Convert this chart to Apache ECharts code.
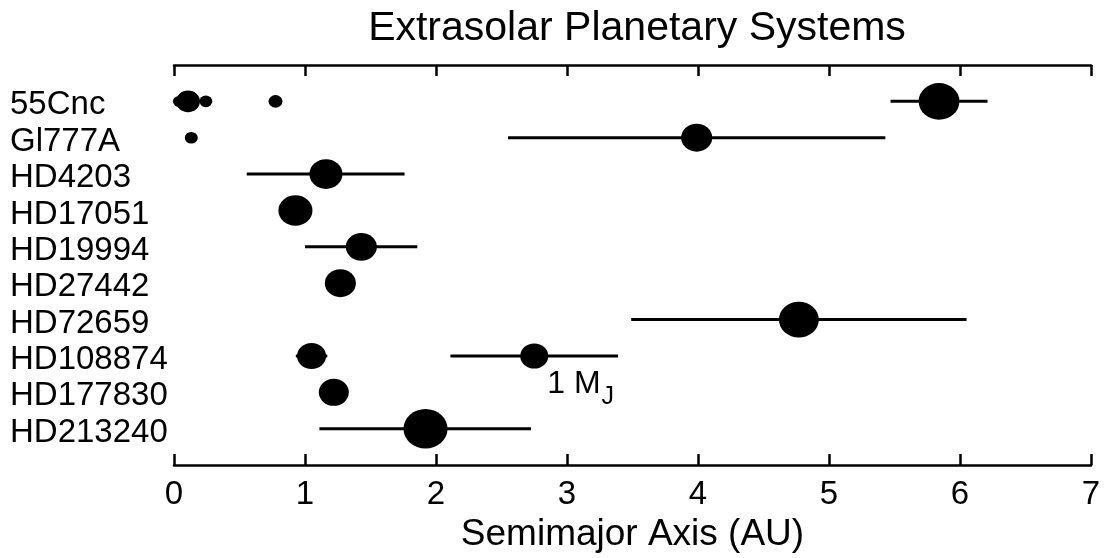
<!DOCTYPE html>
<html>
<head>
<meta charset="utf-8">
<title>Extrasolar Planetary Systems</title>
<script src="https://cdn.jsdelivr.net/npm/echarts@6/dist/echarts.min.js"></script>
<style>
  html, body { margin: 0; padding: 0; background: #fff; }
  #chart { width: 1110px; height: 558px; }
</style>
</head>
<body>
<div id="chart"></div>
<script>
// Host stars, listed top to bottom
const stars = ['55Cnc', 'Gl777A', 'HD4203', 'HD17051', 'HD19994', 'HD27442',
               'HD72659', 'HD108874', 'HD177830', 'HD213240'];

// One entry per planet: host, semimajor axis (AU), mass (Jupiter masses)
const planetHost = ['55Cnc', '55Cnc', '55Cnc', '55Cnc', '55Cnc',
                    'Gl777A', 'Gl777A', 'HD4203', 'HD17051', 'HD19994', 'HD27442',
                    'HD72659', 'HD108874', 'HD108874', 'HD177830', 'HD213240'];
const planetA    = [0.038, 0.107, 0.243, 0.775, 5.84,
                    0.132, 3.99, 1.16, 0.927, 1.43, 1.27,
                    4.77, 1.05, 2.75, 1.22, 1.92];
const planetMass = [0.08, 0.63, 0.10, 0.125, 3.1,
                    0.10, 1.36, 1.64, 1.79, 1.36, 1.36,
                    2.9, 1.11, 1.0, 1.23, 3.9];

// Orbital range (periastron to apastron, AU) for eccentric orbits
const orbitHost = ['55Cnc', 'Gl777A', 'HD4203', 'HD19994', 'HD72659',
                   'HD108874', 'HD108874', 'HD213240'];
const orbitPeri = [5.47, 2.55, 0.555, 1.00, 3.49, 0.93, 2.11, 1.11];
const orbitApo  = [6.21, 5.43, 1.76, 1.857, 6.05, 1.17, 3.39, 2.725];

// Axis ticks
const xTicks = [0, 1, 2, 3, 4, 5, 6, 7];

// Reference planet carrying the mass-scale label
const refHost = 'HD108874';
const refA = 2.75;

const FONT = '"Liberation Sans", Arial, Helvetica, sans-serif';

// marker width grows with the cube root of the mass; 1 MJ -> 28 px
function markerSize(m) {
  const w = 28 * Math.cbrt(m);
  return [w, w * 0.9];
}

const planetData = planetA.map((a, i) => {
  const item = {
    value: [a, stars.indexOf(planetHost[i])],
    symbolSize: markerSize(planetMass[i])
  };
  if (planetHost[i] === refHost && a === refA) {
    item.label = {
      show: true,
      position: [27, 25],
      fontSize: 32,
      fontFamily: FONT,
      color: '#000',
      formatter: '{m|1 M}{s|J}',
      rich: {
        m: { fontSize: 32, fontFamily: FONT, color: '#000', lineHeight: 34, verticalAlign: 'top' },
        s: { fontSize: 25, fontFamily: FONT, color: '#000', lineHeight: 27, padding: [24, 0, 0, 1] }
      }
    };
  }
  return item;
});

const orbitData = orbitPeri.map((lo, i) => [lo, orbitApo[i], stars.indexOf(orbitHost[i])]);

const chart = echarts.init(document.getElementById('chart'), null, { renderer: 'canvas' });

const axisCommon = {
  type: 'value',
  min: xTicks[0],
  max: xTicks[xTicks.length - 1],
  interval: 1,
  splitLine: { show: false },
  axisLine: { show: true, onZero: false, lineStyle: { color: '#000', width: 2.5 } },
  axisTick: { show: true, inside: true, length: 11, lineStyle: { color: '#000', width: 2.5 } }
};

chart.setOption({
  animation: false,
  backgroundColor: '#fff',
  title: {
    text: 'Extrasolar Planetary Systems',
    left: 632,
    textAlign: 'center',
    top: 3,
    textStyle: { fontSize: 41, fontWeight: 'normal', color: '#000', fontFamily: FONT }
  },
  grid: { left: 174, right: 19, top: 65, bottom: 89, containLabel: false },
  xAxis: [
    Object.assign({}, axisCommon, {
      position: 'bottom',
      name: 'Semimajor Axis (AU)',
      nameLocation: 'middle',
      nameGap: 36,
      nameTextStyle: { fontSize: 37, color: '#000', fontFamily: FONT },
      axisLabel: { show: true, fontSize: 33, color: '#000', fontFamily: FONT, margin: 13 }
    }),
    Object.assign({}, axisCommon, {
      position: 'top',
      axisLabel: { show: false }
    })
  ],
  yAxis: {
    type: 'value',
    inverse: true,
    min: -1,
    max: stars.length,
    interval: 1,
    axisLine: { show: false },
    axisTick: { show: false },
    splitLine: { show: false },
    axisLabel: {
      show: true,
      align: 'left',
      verticalAlign: 'top',
      lineHeight: 8,
      margin: 164,
      fontSize: 33,
      color: '#000',
      fontFamily: FONT,
      formatter: v => stars[v] || ''
    }
  },
  series: [
    {
      type: 'custom',
      name: 'orbit',
      z: 2,
      data: orbitData,
      encode: { x: [0, 1], y: 2 },
      renderItem: (params, api) => {
        const p0 = api.coord([api.value(0), api.value(2)]);
        const p1 = api.coord([api.value(1), api.value(2)]);
        return {
          type: 'line',
          shape: { x1: p0[0], y1: p0[1], x2: p1[0], y2: p1[1] },
          style: { stroke: '#000', lineWidth: 3 }
        };
      }
    },
    {
      type: 'scatter',
      name: 'planets',
      z: 3,
      symbol: 'circle',
      itemStyle: { color: '#000', opacity: 1 },
      data: planetData
    }
  ]
});
</script>
</body>
</html>
